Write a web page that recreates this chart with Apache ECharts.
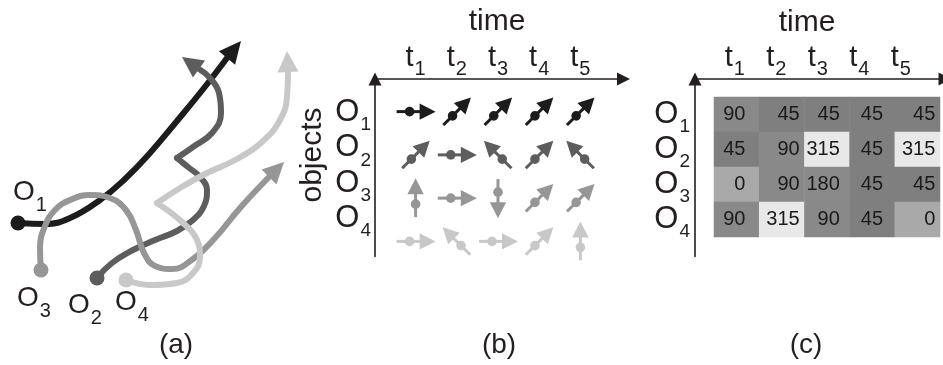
<!DOCTYPE html>
<html><head><meta charset="utf-8">
<script src="https://cdn.jsdelivr.net/npm/echarts@6/dist/echarts.min.js"></script>
<style>html,body{margin:0;padding:0;background:#fff}#c{width:943px;height:365px}</style>
</head><body><div id="c"></div>
<script>
// ---------- data ----------
const times = ['t1', 't2', 't3', 't4', 't5'];
const objects = ['O1', 'O2', 'O3', 'O4'];
// movement direction of each object at each time step, degrees clockwise from north
const dirO1 = [90, 45, 45, 45, 45];
const dirO2 = [45, 90, 315, 45, 315];
const dirO3 = [0, 90, 180, 45, 45];
const dirO4 = [90, 315, 90, 45, 0];
// trajectories of panel (a) (panel pixel space); segments split at sharp corners, last point = arrow tip
const trajO1 = [[[18,223],[45,224],[70,218],[100,200],[125,179],[150,153],[177,121],[204,88],[227,58],[241,41]]];
const trajO2 = [[[97,278],[112,263],[133,250],[155,240],[177,231],[193,220],[204,206],[207,190],[200,177],[188,167],[177,158]],
                [[177,158],[193,147],[212,133],[221,113],[219,93],[210,78],[199,69],[182,57]]];
const trajO3 = [[[41,270],[40,248],[45,226],[55,210],[70,200],[90,195],[110,198],[126,210],[136,230],[144,253],[155,266],[172,269],[193,259],[215,238],[240,208],[269,177],[284,162]]];
const trajO4 = [[[126,280],[150,285],[177,283],[193,273],[200,257],[197,240],[182,222],[157,203]],
                [[157,203],[180,188],[205,174],[237,159],[263,141],[280,120],[287,97],[288,72],[287,51]]];
const captions = ['(a)', '(b)', '(c)'];
const timeTitle = 'time';
const objTitle = 'objects';

// ---------- styles ----------
const FONT = '"Liberation Sans", Arial, Helvetica, sans-serif';
const INK = '#231f20';
const objColors = ['#1c1c1c', '#5d5d5d', '#969696', '#c8c8c8'];
const cellColors = [{value:0,color:'#a9a9a9'},{value:45,color:'#7f7f7f'},{value:90,color:'#898989'},{value:180,color:'#8a8a8a'},{value:315,color:'#e8e8e8'}];
const colPad = [14, 5, 10, 12, 5];

const dirs = [dirO1, dirO2, dirO3, dirO4];
const trajs = [trajO1, trajO2, trajO3, trajO4];

const sub = s => '{m|' + s.charAt(0) + '}{s|' + s.slice(1) + '}';
const rich = (m, s, pad) => ({
  m: {fontSize: m, fontFamily: FONT, color: INK},
  s: {fontSize: s, fontFamily: FONT, color: INK, padding: [pad, 0, 0, 1]}
});

const grids = [
  {left: 0, top: 0, width: 320, height: 365},          // 0 panel a
  {left: 375, top: 79, width: 248.5, height: 177.5},   // 1 b frame
  {left: 395, top: 90, width: 206, height: 173},       // 2 b glyphs
  {left: 395, top: 95, width: 206, height: 141},       // 3 b object labels
  {left: 695, top: 79, width: 250, height: 177.5},     // 4 c frame
  {left: 714, top: 97, width: 226, height: 140},       // 5 c heatmap
  {left: 714, top: 97, width: 207.5, height: 140}      // 6 c time labels
].map(g => Object.assign({outerBoundsMode: 'none', containLabel: false, show: false}, g));

const hidden = {axisLine: {show: false}, axisTick: {show: false}, axisLabel: {show: false}, splitLine: {show: false}};
const frameLine = {show: true, onZero: false, symbol: ['none', 'triangle'], symbolSize: [13, 13], lineStyle: {color: INK, width: 1.6}};
const lab = (margin, r) => ({show: true, interval: 0, hideOverlap: false, margin, formatter: sub, rich: r});

const xAxis = [
  Object.assign({gridIndex: 0, type: 'value', min: 0, max: 320, show: false}, hidden),
  Object.assign({}, hidden, {gridIndex: 1, type: 'value', position: 'top', axisLine: frameLine}),
  Object.assign({}, hidden, {gridIndex: 2, type: 'category', data: times, position: 'top', axisLabel: lab(11, rich(29, 20, 22))}),
  Object.assign({gridIndex: 3, type: 'category', data: times, show: false}, hidden),
  Object.assign({}, hidden, {gridIndex: 4, type: 'value', position: 'top', axisLine: frameLine}),
  Object.assign({gridIndex: 5, type: 'category', data: times, show: false}, hidden),
  Object.assign({}, hidden, {gridIndex: 6, type: 'category', data: times, position: 'top', axisLabel: lab(18, rich(29, 20, 22))})
];
const yAxis = [
  Object.assign({gridIndex: 0, type: 'value', min: 0, max: 365, inverse: true, show: false}, hidden),
  Object.assign({}, hidden, {gridIndex: 1, type: 'value', inverse: true, position: 'left', axisLine: frameLine}),
  Object.assign({gridIndex: 2, type: 'category', data: objects, inverse: true, show: false}, hidden),
  Object.assign({}, hidden, {gridIndex: 3, type: 'category', data: objects, inverse: true, position: 'left', axisLabel: lab(24, rich(31, 19, 25))}),
  Object.assign({}, hidden, {gridIndex: 4, type: 'value', inverse: true, position: 'left', axisLine: frameLine}),
  Object.assign({}, hidden, {gridIndex: 5, type: 'category', data: objects, inverse: true, position: 'left', axisLabel: lab(24, rich(31, 19, 25))}),
  Object.assign({gridIndex: 6, type: 'category', data: objects, inverse: true, show: false}, hidden)
];

const series = [];
// panel (a): trajectory lines
trajs.forEach((segs, oi) => {
  segs.forEach((seg, si) => {
    const isLast = si === segs.length - 1;
    series.push({
      type: 'line', xAxisIndex: 0, yAxisIndex: 0, smooth: 0.45, symbol: 'none', silent: true,
      data: isLast ? seg.slice(0, -1) : seg,
      lineStyle: {color: objColors[oi], width: 6, cap: 'round', join: 'round'},
      z: 2 + oi
    });
  });
});
// start dots
series.push({
  type: 'scatter', xAxisIndex: 0, yAxisIndex: 0, symbol: 'circle', symbolSize: 15, silent: true,
  data: trajs.map((segs, oi) => [segs[0][0][0], segs[0][0][1], oi]),
  itemStyle: {color: p => objColors[p.value[2]], opacity: 1}, z: 10
});
// arrow heads
series.push({
  type: 'custom', xAxisIndex: 0, yAxisIndex: 0, silent: true, z: 10,
  data: trajs.map((segs, oi) => {
    const s = segs[segs.length - 1];
    const b = s[s.length - 2], t = s[s.length - 1];
    return [b[0], b[1], t[0], t[1], oi];
  }),
  renderItem(params, api) {
    const b = api.coord([api.value(0), api.value(1)]);
    const t = api.coord([api.value(2), api.value(3)]);
    const dx = t[0] - b[0], dy = t[1] - b[1], len = Math.hypot(dx, dy), hw = 10.5;
    const nx = -dy / len * hw, ny = dx / len * hw;
    return {type: 'polygon', shape: {points: [[t[0], t[1]], [b[0] + nx, b[1] + ny], [b[0] - nx, b[1] - ny]]},
      style: {fill: objColors[api.value(4)]}};
  }
});
// panel (b): direction glyphs
const glyphData = [];
dirs.forEach((row, oi) => row.forEach((a, ti) => glyphData.push([ti, oi, a])));
series.push({
  type: 'custom', xAxisIndex: 2, yAxisIndex: 2, silent: true, data: glyphData,
  renderItem(params, api) {
    const c = api.coord([api.value(0), api.value(1)]);
    const col = objColors[api.value(1)];
    return {type: 'group', x: c[0], y: c[1], rotation: -api.value(2) * Math.PI / 180, children: [
      {type: 'line', shape: {x1: 0, y1: 19, x2: 0, y2: -5}, style: {stroke: col, lineWidth: 3}},
      {type: 'circle', shape: {cx: 0, cy: 6, r: 4.8}, style: {fill: col}},
      {type: 'polygon', shape: {points: [[0, -20], [-8.2, -4], [8.2, -4]]}, style: {fill: col}}
    ]};
  }
});
// panel (c): heatmap
const heatIndex = series.length;
series.push({
  type: 'heatmap', xAxisIndex: 5, yAxisIndex: 5, silent: true,
  data: glyphData.map(d => ({value: d, label: {distance: colPad[d[0]]}})),
  label: {show: true, position: 'insideRight', fontSize: 20, fontFamily: FONT, color: '#1a1a1a'},
  emphasis: {disabled: true}
});

const txt = (text, x, y, size, extra) => Object.assign({type: 'text', x, y, silent: true,
  style: Object.assign({text, fontSize: size, fontFamily: FONT, fill: INK, align: 'center', verticalAlign: 'middle'}, extra || {})});

const aLabelPos = [[13, 192], [68, 305], [17, 298], [115, 302]];
const graphic = [
  txt(timeTitle, 497, 22, 30),
  txt(timeTitle, 807, 23, 30),
  Object.assign(txt(objTitle, 313, 155, 30), {rotation: Math.PI / 2}),
  txt(captions[0], 176, 345, 28),
  txt(captions[1], 499, 345, 28),
  txt(captions[2], 806, 345, 28)
].concat(objects.map((o, i) => txt(sub(o), aLabelPos[i][0], aLabelPos[i][1], 28,
  {align: 'left', rich: rich(28, 20, 26)})));

const chart = echarts.init(document.getElementById('c'), null, {renderer: 'canvas', width: 943, height: 365});
chart.setOption({
  animation: false,
  backgroundColor: '#ffffff',
  grid: grids, xAxis, yAxis, series, graphic,
  visualMap: {type: 'piecewise', show: false, seriesIndex: heatIndex, dimension: 2, pieces: cellColors}
});
</script></body></html>
